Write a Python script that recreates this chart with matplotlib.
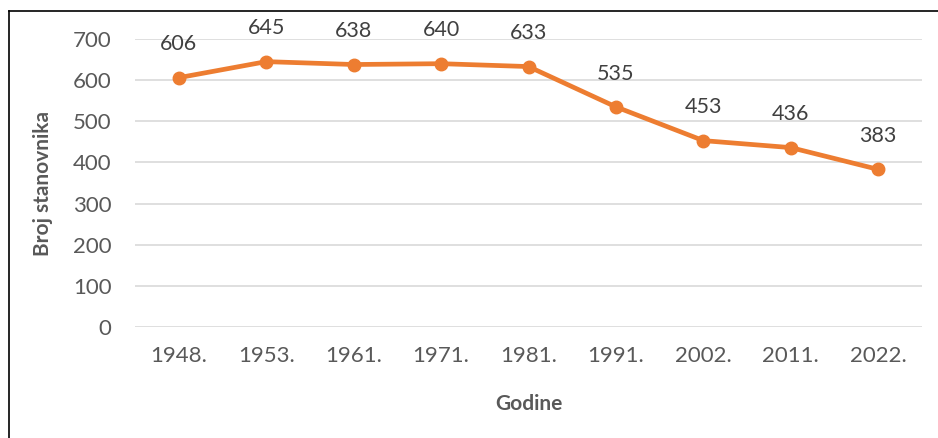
import matplotlib
matplotlib.use("Agg")
import matplotlib.pyplot as plt
from matplotlib.lines import Line2D

years = ['1948.', '1953.', '1961.', '1971.', '1981.', '1991.', '2002.', '2011.', '2022.']
population = [606, 645, 638, 640, 633, 535, 453, 436, 383]
yticks = [0, 100, 200, 300, 400, 500, 600, 700]

plt.rcParams['font.family'] = ['Lato', 'DejaVu Sans']

fig = plt.figure(figsize=(9.38, 4.38), dpi=100)
ax = fig.add_axes([135 / 938, 1 - 327 / 438, 787 / 938, 288 / 438])

x = list(range(len(years)))
ax.plot(x, population, color='#ED7D31', linewidth=3.4, marker='o',
        markersize=9, solid_capstyle='round', zorder=3)

for xi, v in zip(x, population):
    ax.annotate(str(v), (xi, v), xytext=(0, 24), textcoords='offset points',
                ha='center', va='center', fontsize=15.5, color='#404040')

ax.set_xlim(-0.5, len(years) - 0.5)
ax.set_ylim(0, 700)
ax.set_yticks(yticks)
ax.set_xticks(x)
ax.set_xticklabels(years)
ax.grid(axis='y', color='#d9d9d9', linewidth=1.2)
ax.set_axisbelow(True)
for s in ax.spines.values():
    s.set_visible(False)
ax.tick_params(length=0, labelsize=16, colors='#595959')
ax.tick_params(axis='y', pad=17)
ax.tick_params(axis='x', pad=14)

ax.set_xlabel('Godine', fontsize=15, fontweight='bold', color='#595959', labelpad=20)
ax.set_ylabel('Broj stanovnika', fontsize=15, fontweight='bold', color='#595959', labelpad=14)

# border of the chart box
fig.add_artist(Line2D([8.5 / 938, 8.5 / 938], [0, 1 - 10.5 / 438], color='black', linewidth=1.2))
fig.add_artist(Line2D([8.5 / 938, 1], [1 - 10.5 / 438, 1 - 10.5 / 438], color='black', linewidth=1.2))

fig.savefig('out.png', dpi=100, facecolor='white')
